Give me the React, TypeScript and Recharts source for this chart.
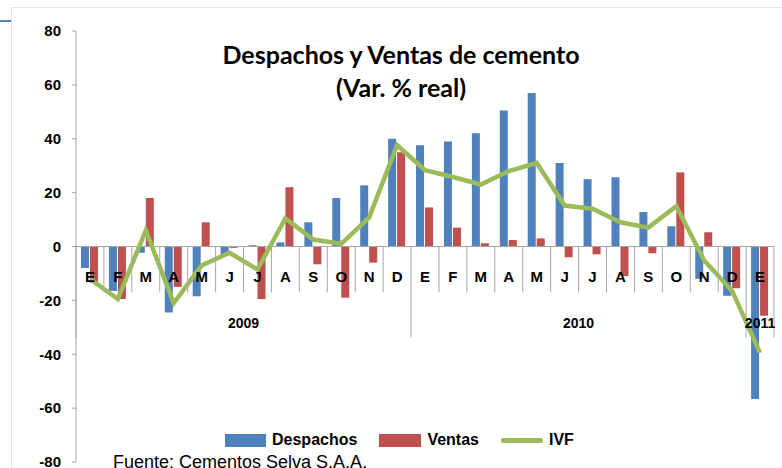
import React from "react";
import {
  Bar,
  ComposedChart,
  Line,
  ReferenceLine,
  XAxis,
  YAxis,
} from "recharts";

const MONTHS = [
  "E", "F", "M", "A", "M", "J", "J", "A", "S", "O", "N", "D",
  "E", "F", "M", "A", "M", "J", "J", "A", "S", "O", "N", "D",
  "E",
];
const YEARS = [
  2009, 2009, 2009, 2009, 2009, 2009, 2009, 2009, 2009, 2009, 2009, 2009,
  2010, 2010, 2010, 2010, 2010, 2010, 2010, 2010, 2010, 2010, 2010, 2010,
  2011,
];
const DESPACHOS = [
  -8, -16.5, -2.3, -24.5, -18.5, -3.4, 0.5, 1.5, 9, 18, 22.7, 40,
  37.6, 39, 42, 50.5, 57, 31, 25, 25.7, 12.8, 7.5, -12, -18.3,
  -56.6,
];
const VENTAS = [
  -13.5, -19.5, 18, -15, 9, -0.5, -19.5, 22, -6.6, -19, -6, 35,
  14.5, 7, 1.2, 2.4, 3, -4, -2.9, -11, -2.5, 27.5, 5.3, -15.5,
  -25.7,
];
const IVF = [
  -12, -19.5, 6, -21, -7, -2.3, -8.5, 10.4, 2.6, 1, 10.8, 37.6,
  28.3, 25.8, 23, 28, 31, 15.2, 14, 9, 7, 15, -5.2, -16.5,
  -39.5,
];
const Y_TICKS = [-80, -60, -40, -20, 0, 20, 40, 60, 80];

const data = MONTHS.map((m, i) => ({
  key: `${YEARS[i]}-${i}`,
  month: m,
  year: YEARS[i],
  axis: 0,
  despachos: DESPACHOS[i],
  ventas: VENTAS[i],
  ivf: IVF[i],
}));

const W = 782;
const H = 468;
const PLOT_LEFT = 76;
const PLOT_RIGHT = 774;
const PLOT_TOP = 31;
const PLOT_BOTTOM = 462;
const BAND = (PLOT_RIGHT - PLOT_LEFT) / MONTHS.length;

const BLUE = "#4F81BD";
const RED = "#C0504D";
const GREEN = "#9BBB59";
const AXIS = "#A6A6A6";
const FONT = "'Liberation Sans', Arial, sans-serif";

// month / year labels sit on the zero line, drawn over the bars
function MonthLabel(props: any) {
  const { x, y, index } = props;
  const i = index ?? 0;
  const year = YEARS[i];
  const firstOfYear = i === 0 || YEARS[i - 1] !== year;
  const last = i === MONTHS.length - 1;
  const left = x - BAND / 2;
  const count = YEARS.filter((yr) => yr === year).length;
  return (
    <g>
      <line
        x1={left}
        x2={left}
        y1={y}
        y2={firstOfYear ? y + 91 : y + 46}
        stroke={AXIS}
        strokeWidth={1}
      />
      {last && (
        <line
          x1={x + BAND / 2}
          x2={x + BAND / 2}
          y1={y}
          y2={y + 91}
          stroke={AXIS}
          strokeWidth={1}
        />
      )}
      <text
        x={x}
        y={y + 35}
        textAnchor="middle"
        fontFamily={FONT}
        fontWeight={700}
        fontSize={15}
        fill="#000"
      >
        {MONTHS[i]}
      </text>
      {firstOfYear && (
        <text
          x={left + (count * BAND) / 2}
          y={y + 81}
          textAnchor="middle"
          fontFamily={FONT}
          fontWeight={700}
          fontSize={14}
          fill="#000"
        >
          {year}
        </text>
      )}
    </g>
  );
}

function LegendBox() {
  const item = { display: "flex", alignItems: "center", marginRight: 22 };
  const label = {
    fontFamily: FONT,
    fontWeight: 700,
    fontSize: 16,
    color: "#000",
    marginLeft: 6,
  };
  return (
    <div style={{ display: "flex", alignItems: "center" }}>
      <div style={item}>
        <span style={{ width: 41, height: 13, background: BLUE, display: "inline-block" }} />
        <span style={label}>Despachos</span>
      </div>
      <div style={item}>
        <span style={{ width: 42, height: 13, background: RED, display: "inline-block" }} />
        <span style={label}>Ventas</span>
      </div>
      <div style={item}>
        <span style={{ width: 42, height: 5, background: GREEN, display: "inline-block", borderRadius: 2 }} />
        <span style={label}>IVF</span>
      </div>
    </div>
  );
}

export default function App() {
  return (
    <div
      style={{
        position: "absolute",
        left: 0,
        top: 0,
        width: W,
        height: H,
        overflow: "hidden",
        background: "#fff",
      }}
    >
      <div
        style={{
          position: "absolute",
          left: 11,
          top: 7,
          width: W,
          height: H,
          border: "1px solid #E3E3E3",
        }}
      />
      <div
        style={{
          position: "absolute",
          left: 0,
          top: 20,
          width: 11,
          height: 2,
          background: BLUE,
        }}
      />
      <ComposedChart
        width={W}
        height={H}
        data={data}
        margin={{ top: PLOT_TOP, right: W - PLOT_RIGHT, bottom: H - PLOT_BOTTOM - 1, left: 0 }}
        barSize={8}
        barGap={1}
        style={{ position: "absolute", left: 0, top: 0 }}
      >
        <XAxis
          dataKey="key"
          height={1}
          axisLine={false}
          tickLine={false}
          tick={false}
        />
        <YAxis
          width={PLOT_LEFT}
          domain={[-80, 80]}
          ticks={Y_TICKS}
          interval={0}
          axisLine={{ stroke: AXIS }}
          tickLine={{ stroke: AXIS }}
          tickSize={4}
          tickMargin={11}
          tick={{ fontFamily: FONT, fontWeight: 700, fontSize: 15, fill: "#000" }}
        />
        <Bar dataKey="despachos" name="Despachos" fill={BLUE} isAnimationActive={false} />
        <Bar dataKey="ventas" name="Ventas" fill={RED} isAnimationActive={false} />
        <ReferenceLine y={0} stroke={AXIS} strokeWidth={1} />
        <Line
          dataKey="axis"
          stroke="none"
          dot={false}
          activeDot={false}
          legendType="none"
          isAnimationActive={false}
          label={(p: any) => <MonthLabel key={p.index} {...p} />}
        />
        <Line
          dataKey="ivf"
          name="IVF"
          type="linear"
          stroke={GREEN}
          strokeWidth={4.5}
          dot={false}
          isAnimationActive={false}
        />
      </ComposedChart>
      <div
        style={{
          position: "absolute",
          left: 0,
          top: 38,
          width: 802,
          textAlign: "center",
          fontFamily: "Lato, sans-serif",
          fontWeight: 700,
          fontSize: 25,
          lineHeight: "33px",
          color: "#000",
        }}
      >
        Despachos y Ventas de cemento
        <br />
        (Var. % real)
      </div>
      <div style={{ position: "absolute", left: 225, top: 431 }}>
        <LegendBox />
      </div>
      <div
        style={{
          position: "absolute",
          left: 113,
          top: 452,
          fontFamily: "'Liberation Sans', Arial, sans-serif",
          fontSize: 18,
          color: "#000",
          whiteSpace: "nowrap",
        }}
      >
        Fuente: Cementos Selva S.A.A.
      </div>
    </div>
  );
}
